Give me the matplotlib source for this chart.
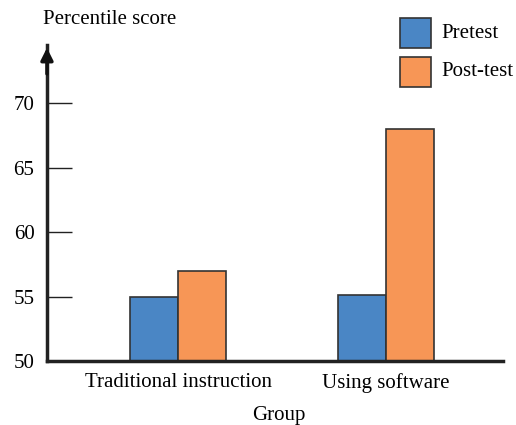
import matplotlib
matplotlib.use("Agg")
import matplotlib.pyplot as plt
from matplotlib.patches import Rectangle
import numpy as np

groups = ["Traditional instruction", "Using software"]
pretest = [55.0, 55.1]
posttest = [57.0, 68.0]
yticks = [50, 55, 60, 65, 70]
series_names = ["Pretest", "Post-test"]

plt.rcParams['font.family'] = ['Liberation Serif', 'DejaVu Serif']

blue = "#4A86C5"
orange = "#F79656"
edge = "#333333"
FS = 15

fig = plt.figure(figsize=(5.16, 4.25), dpi=100)
ax = fig.add_axes([0.091, 0.1506, 0.884, 0.7434])

x = np.arange(len(groups))
w = 0.231
ax.bar(x - w/2, [p - 50 for p in pretest], width=w, bottom=50, color=blue, edgecolor=edge, linewidth=1.2)
ax.bar(x + w/2, [p - 50 for p in posttest], width=w, bottom=50, color=orange, edgecolor=edge, linewidth=1.2)

ax.set_xlim(-0.63, 1.5625)
ax.set_ylim(50, 74.5)
ax.set_yticks(yticks)
ax.set_yticklabels([str(t) for t in yticks], fontsize=FS)
ax.set_xticks(x)
ax.set_xticklabels(groups, fontsize=FS)
ax.tick_params(axis='x', length=0, pad=9)
ax.tick_params(axis='y', direction='in', length=18, width=1, color="#222222", pad=9)

for s in ["top", "right"]:
    ax.spines[s].set_visible(False)
ax.spines["left"].set_linewidth(2.5)
ax.spines["bottom"].set_linewidth(2.5)
ax.spines["left"].set_color("#222222")
ax.spines["bottom"].set_color("#222222")

# arrow head at top of y axis
ax.annotate("", xy=(0, 1.0), xycoords="axes fraction", xytext=(0, 0.9),
            arrowprops=dict(arrowstyle="-|>", color="#111111", lw=2.5, mutation_scale=18))

ax.set_xlabel("Group", fontsize=FS, labelpad=9)
ax.xaxis.label.set_x(0.509)
fig.text(110 / 516, 1 - 20 / 425, "Percentile score", fontsize=FS, ha="center", va="center")

# legend drawn in figure pixels
W, H = 516, 425
for i, (name, col) in enumerate(zip(series_names, [blue, orange])):
    top = 18 + i * 39
    fig.patches.append(Rectangle((400 / W, 1 - (top + 30) / H), 31 / W, 30 / H,
                                 transform=fig.transFigure, facecolor=col,
                                 edgecolor=edge, linewidth=1.2))
    fig.text(441 / W, 1 - (top + 15) / H, name, fontsize=FS, ha="left", va="center")

fig.savefig("out.png", dpi=100)
